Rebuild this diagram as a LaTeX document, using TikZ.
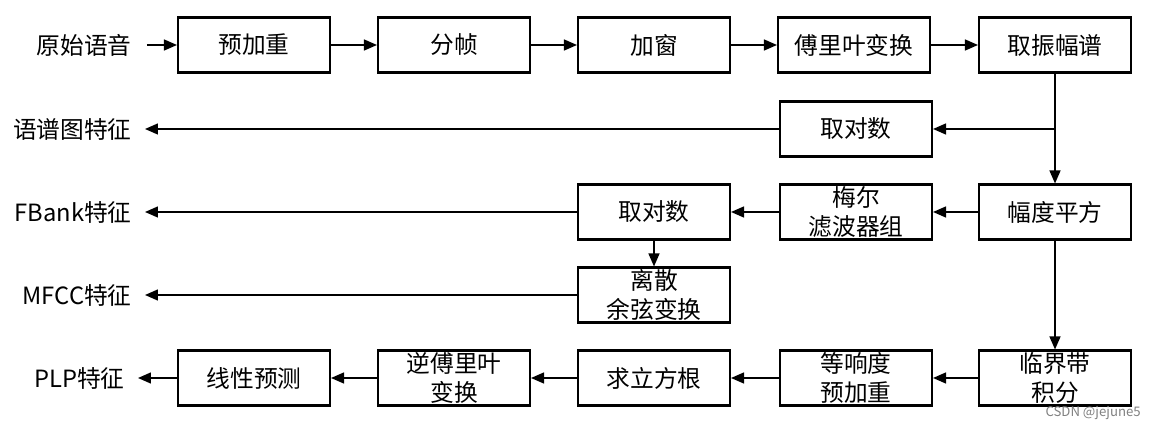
\documentclass[tikz,border=0pt]{standalone}
\usepackage{fontspec}
\setmainfont{Noto Sans CJK SC}
\usetikzlibrary{arrows.meta}

\tikzset{boite/.style = {draw, line width=1.2pt, minimum width=3.04cm, minimum height=1.1cm,
                         inner sep=0pt, align=center,
                         font=\fontsize{13.5}{16.5}\selectfont},
         etiq/.style = {anchor=east, inner sep=0pt, font=\fontsize{13.5}{16.5}\selectfont},
         fleche/.style = {line width=0.8pt, -{Triangle[length=2.6mm, width=2.2mm]}}
        }

\begin{document}
\begin{tikzpicture}[x=0.02cm, y=-0.02cm]
  \useasboundingbox (0, 0) rectangle (1156, 428);
  % premiere ligne
  \node[etiq] (brut) at (132, 45) {原始语音};
  \node[boite] (preacc) at (254, 45) {预加重};
  \node[boite] (trame) at (454, 45) {分帧};
  \node[boite] (fenetre) at (654, 45) {加窗};
  \node[boite] (tfd) at (854, 45) {傅里叶变换};
  \node[boite] (ampl) at (1055, 45) {取振幅谱};
  % spectrogramme
  \node[boite] (log1) at (856, 129) {取对数};
  \node[etiq] (spectro) at (132, 129) {语谱图特征};
  % fbank et mfcc
  \node[boite] (carre) at (1055, 212) {幅度平方};
  \node[boite] (mel) at (856, 212) {梅尔\\滤波器组};
  \node[boite] (log2) at (654, 212) {取对数};
  \node[etiq] (fbank) at (132, 212) {FBank特征};
  \node[boite] (dct) at (654, 295) {离散\\余弦变换};
  \node[etiq] (mfcc) at (132, 295) {MFCC特征};
  % plp
  \node[boite] (bande) at (1055, 378) {临界带\\积分};
  \node[boite] (isoson) at (856, 378) {等响度\\预加重};
  \node[boite] (racine) at (654, 378) {求立方根};
  \node[boite] (itfd) at (454, 378) {逆傅里叶\\变换};
  \node[boite] (lpc) at (254, 378) {线性预测};
  \node[etiq] (plp) at (125, 378) {PLP特征};
  \node[anchor=south east, inner sep=0pt, text=gray, font=\fontsize{7.5}{8}\selectfont]
    (marque) at (1141, 420) {CSDN @jejune5};

  \coordinate (noeud) at (ampl.south |- log1.east);
  \draw[fleche] ([xshift=3mm]brut.east) -- (preacc.west);
  \draw[fleche] (preacc) -- (trame);
  \draw[fleche] (trame) -- (fenetre);
  \draw[fleche] (fenetre) -- (tfd);
  \draw[fleche] (tfd) -- (ampl);
  \draw[fleche] (ampl) -- (carre);
  \draw[fleche] (noeud) -- (log1);
  \draw[fleche] (log1) -- ([xshift=2.6mm]spectro.east);
  \draw[fleche] (carre) -- (mel);
  \draw[fleche] (mel) -- (log2);
  \draw[fleche] (log2) -- ([xshift=2.6mm]fbank.east);
  \draw[fleche] (log2) -- (dct);
  \draw[fleche] (dct) -- ([xshift=2.6mm]mfcc.east);
  \draw[fleche] (carre) -- (bande);
  \draw[fleche] (bande) -- (isoson);
  \draw[fleche] (isoson) -- (racine);
  \draw[fleche] (racine) -- (itfd);
  \draw[fleche] (itfd) -- (lpc);
  \draw[fleche] (lpc) -- ([xshift=2.6mm]plp.east);
\end{tikzpicture}
\end{document}
